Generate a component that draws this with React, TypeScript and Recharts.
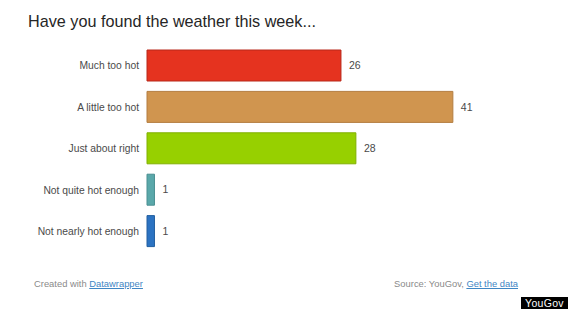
import { BarChart, Bar, XAxis, YAxis, Cell, LabelList } from 'recharts';

const answers = [
  'Much too hot',
  'A little too hot',
  'Just about right',
  'Not quite hot enough',
  'Not nearly hot enough',
];
const shares = [26, 41, 28, 1, 1];
const barColors = ['#e5331f', '#d0954f', '#97d000', '#5aa8aa', '#2c73c2'];
const barBorders = ['#b8281a', '#b37d40', '#80b000', '#4a8f91', '#225f9f'];

const data = answers.map((answer, i) => ({ answer, share: shares[i] }));

const font = '"Liberation Sans", Arial, Helvetica, sans-serif';

export default function App() {
  return (
    <div
      style={{
        position: 'fixed',
        left: 0,
        top: 0,
        width: 570,
        height: 310,
        background: '#fff',
        fontFamily: font,
        overflow: 'hidden',
      }}
    >
      <div
        style={{
          position: 'absolute',
          left: 28,
          top: 12,
          fontSize: 16.2,
          color: '#262626',
          whiteSpace: 'nowrap',
        }}
      >
        Have you found the weather this week...
      </div>
      <BarChart
        width={570}
        height={310}
        layout="vertical"
        data={data}
        margin={{ top: 45, right: 50, left: 0, bottom: 58 }}
      >
        <XAxis type="number" domain={[0, 50]} hide />
        <YAxis
          type="category"
          dataKey="answer"
          width={147}
          axisLine={false}
          tickLine={false}
          tick={{ fill: '#4a4a4a', fontSize: 10.3, fontFamily: font }}
        />
        <Bar dataKey="share" barSize={31} isAnimationActive={false}>
          {data.map((d, i) => (
            <Cell key={d.answer} fill={barColors[i]} stroke={barBorders[i]} strokeWidth={1} />
          ))}
          <LabelList
            dataKey="share"
            position="right"
            offset={8}
            style={{ fill: '#4a4a4a', fontSize: 10.5, fontFamily: font }}
          />
        </Bar>
      </BarChart>
      <div
        style={{
          position: 'absolute',
          left: 34,
          top: 278,
          fontSize: 9.4,
          color: '#8a8a8a',
          whiteSpace: 'nowrap',
        }}
      >
        Created with{' '}
        <span style={{ color: '#3f86c4', textDecoration: 'underline' }}>Datawrapper</span>
      </div>
      <div
        style={{
          position: 'absolute',
          right: 52,
          top: 278,
          fontSize: 9.4,
          color: '#8a8a8a',
          whiteSpace: 'nowrap',
        }}
      >
        Source: YouGov,{' '}
        <span style={{ color: '#3f86c4', textDecoration: 'underline' }}>Get the data</span>
      </div>
      <div
        style={{
          position: 'absolute',
          left: 521,
          top: 297,
          width: 47,
          height: 12,
          background: '#000',
          color: '#fff',
          fontSize: 10.5,
          lineHeight: '12px',
          textAlign: 'center',
          letterSpacing: 0.3,
        }}
      >
        YouGov
      </div>
    </div>
  );
}
